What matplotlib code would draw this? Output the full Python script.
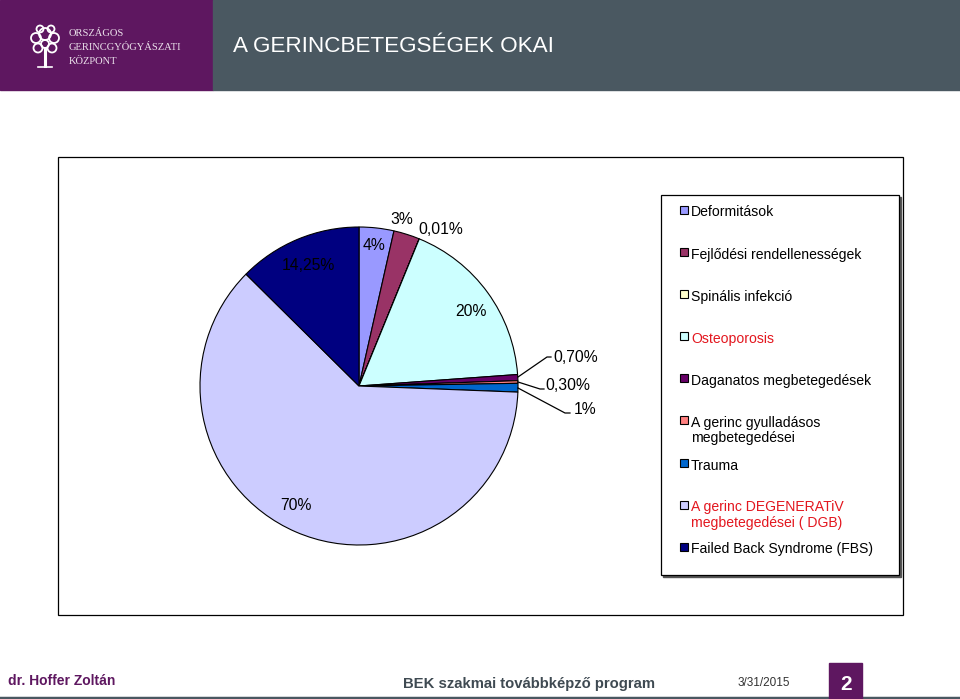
import matplotlib.pyplot as plt
from matplotlib.patches import Rectangle, Circle

categories = ["Deformitások", "Fejlődési rendellenességek", "Spinális infekció",
              "Osteoporosis", "Daganatos megbetegedések",
              "A gerinc gyulladásos\nmegbetegedései", "Trauma",
              "A gerinc DEGENERATiV\nmegbetegedései ( DGB)",
              "Failed Back Syndrome (FBS)"]
values = [4, 3, 0.01, 20, 0.7, 0.3, 1, 70, 14.25]
value_labels = ["4%", "3%", "0,01%", "20%", "0,70%", "0,30%", "1%", "70%", "14,25%"]
colors = ["#9999FF", "#993366", "#FFFFCC", "#CCFFFF", "#660066",
          "#FF8080", "#0066CC", "#CCCCFF", "#000080"]
legend_text_colors = ["black", "black", "black", "#E3171F", "black",
                      "black", "black", "#E3171F", "black"]

PURPLE = "#5E1760"
SLATE = "#4A5861"

plt.rcParams['font.family'] = ['Liberation Sans', 'DejaVu Sans']

fig = plt.figure(figsize=(9.6, 6.99), dpi=100)
ax = fig.add_axes([0, 0, 1, 1])

# pixel coordinates, y pointing down -> pie angles are mirrored,
# so startangle=-90 + counterclock=True gives clockwise from the top
wedges, _ = ax.pie(values, colors=colors, center=(359, 386), radius=159,
                   startangle=-90, counterclock=True, frame=True,
                   wedgeprops=dict(edgecolor="black", linewidth=0.8))
ax.set_xlim(0, 960)
ax.set_ylim(699, 0)
ax.set_aspect('auto')
ax.axis('off')

# header
ax.add_patch(Rectangle((0, 0), 213, 90, color=PURPLE, zorder=0))
ax.add_patch(Rectangle((213, 0), 747, 90, color=SLATE, zorder=0))
ax.text(233, 46, "A GERINCBETEGSÉGEK OKAI", color="white", fontsize=16.2,
        va="center", ha="left")

# logo: rough tree
ax.plot([45, 45], [48, 66], color="white", lw=2.2)
ax.plot([38, 52], [67, 67], color="white", lw=1.2)
for cx, cy, r in [(45, 34, 6), (36, 38, 5), (54, 38, 5), (38, 48, 4.5),
                  (52, 48, 4.5), (45, 44, 4), (40, 29, 3.5), (51, 29, 3.5)]:
    ax.add_patch(Circle((cx, cy), r, fill=False, edgecolor="white", lw=1.3))
for y, s in [(33, "ORSZÁGOS"), (47, "GERINCGYÓGYÁSZATI"), (61, "KÖZPONT")]:
    ax.text(69, y, s, color="#EADFEA", fontsize=7.6, family="Liberation Serif",
            va="center", ha="left")

# chart frame and legend box
ax.add_patch(Rectangle((58, 157), 845, 458, fill=False, edgecolor="black",
                       lw=0.9, zorder=1))
ax.add_patch(Rectangle((663, 197), 238, 380, color="#555555", zorder=1))
ax.add_patch(Rectangle((661, 195), 238, 380, facecolor="white",
                       edgecolor="black", lw=0.9, zorder=1))

# value labels
label_pos = [(374, 246), (402, 220), (441, 229), (471, 312), (576, 357),
             (568, 385), (585, 410), (296, 506), (308, 266)]
for (x, y), s in zip(label_pos, value_labels):
    ax.text(x, y, s, fontsize=11.3, ha="center", va="center", color="black")

# leader lines for the thin slices
for xs, ys in [([518, 547, 551], [377, 357, 357]),
               ([518, 540, 544], [382, 389, 389]),
               ([518, 565, 570], [388, 413, 413])]:
    ax.plot(xs, ys, color="black", lw=0.9)

# legend
legend_y = [210, 252, 294, 336, 378, 420, 463, 505, 547]
for y, w, name, tc in zip(legend_y, wedges, categories, legend_text_colors):
    ax.add_patch(Rectangle((680, y - 4), 8, 8, facecolor=w.get_facecolor(),
                           edgecolor="black", lw=0.8, zorder=3))
    ax.text(691, y - 4.5, name, fontsize=10.1, color=tc, ha="left", va="top",
            linespacing=1.15)

# footer
ax.plot([0, 960], [698, 698], color=SLATE, lw=2.5)
ax.text(8, 681, "dr. Hoffer Zoltán", color=PURPLE, fontsize=10,
        fontweight="bold", va="center", ha="left")
ax.text(403, 684, "BEK szakmai továbbképző program", color="#3F4A52",
        fontsize=10.7, fontweight="bold", va="center", ha="left")
ax.text(738, 683, "3/31/2015", color="#333333", fontsize=8.5,
        va="center", ha="left")
ax.add_patch(Rectangle((829, 663), 33, 36, color=PURPLE, zorder=2))
ax.text(846, 685, "2", color="white", fontsize=15, fontweight="bold",
        ha="center", va="center", zorder=3)

fig.savefig("out.png", dpi=100)
